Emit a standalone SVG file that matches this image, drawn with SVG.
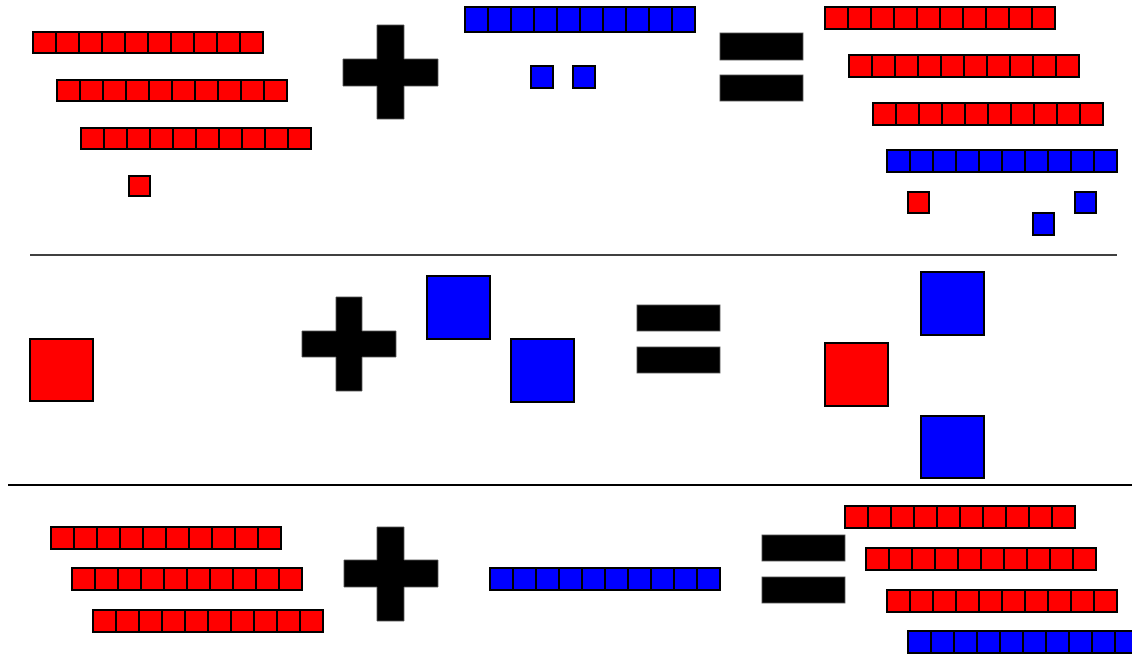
<svg xmlns="http://www.w3.org/2000/svg" xmlns:xlink="http://www.w3.org/1999/xlink" width="1132" height="654" viewBox="0 0 1132 654">
<style>
.r{fill:#ff0000;stroke:#000;stroke-width:2;vector-effect:non-scaling-stroke}
.b{fill:#0000ff;stroke:#000;stroke-width:2;vector-effect:non-scaling-stroke}
.k{fill:#000;stroke:#555;stroke-width:0.8}
.sep{stroke:#000;fill:none}
</style>
<defs>
<g id="rbar">
<rect class="r" x="0" y="0" width="23" height="22"/><rect class="r" x="23" y="0" width="23" height="22"/><rect class="r" x="46" y="0" width="23" height="22"/><rect class="r" x="69" y="0" width="23" height="22"/><rect class="r" x="92" y="0" width="23" height="22"/><rect class="r" x="115" y="0" width="23" height="22"/><rect class="r" x="138" y="0" width="23" height="22"/><rect class="r" x="161" y="0" width="23" height="22"/><rect class="r" x="184" y="0" width="23" height="22"/><rect class="r" x="207" y="0" width="23" height="22"/>
</g>
<g id="bbar">
<rect class="b" x="0" y="0" width="23" height="22"/><rect class="b" x="23" y="0" width="23" height="22"/><rect class="b" x="46" y="0" width="23" height="22"/><rect class="b" x="69" y="0" width="23" height="22"/><rect class="b" x="92" y="0" width="23" height="22"/><rect class="b" x="115" y="0" width="23" height="22"/><rect class="b" x="138" y="0" width="23" height="22"/><rect class="b" x="161" y="0" width="23" height="22"/><rect class="b" x="184" y="0" width="23" height="22"/><rect class="b" x="207" y="0" width="23" height="22"/>
</g>
</defs>
<rect width="1132" height="654" fill="#fff"/>

<g id="row1">
  <g id="r1-left">
    <use href="#rbar" transform="translate(33,32) scale(1,0.95)"/>
    <use href="#rbar" transform="translate(57,80) scale(1,0.95)"/>
    <use href="#rbar" transform="translate(81,128) scale(1,0.95)"/>
    <rect class="r" x="129" y="176" width="21" height="20"/>
  </g>
  <g id="r1-plus"><path class="k" d="M377 25H404V59H438V86H404V119H377V86H343V59H377Z"/></g>
  <g id="r1-mid">
    <use href="#bbar" transform="translate(465,7) scale(1,1.14)"/>
    <rect class="b" x="531" y="66" width="22" height="22"/>
    <rect class="b" x="573" y="66" width="22" height="22"/>
  </g>
  <g id="r1-eq"><rect class="k" x="720" y="33" width="83" height="27"/><rect class="k" x="720" y="75" width="83" height="26"/></g>
  <g id="r1-right">
    <use href="#rbar" transform="translate(825,7)"/>
    <use href="#rbar" transform="translate(849,55)"/>
    <use href="#rbar" transform="translate(873,103)"/>
    <use href="#bbar" transform="translate(887,150)"/>
    <rect class="r" x="908" y="192" width="21" height="21"/>
    <rect class="b" x="1075" y="192" width="21" height="21"/>
    <rect class="b" x="1033" y="213" width="21" height="22"/>
  </g>
</g>

<g id="separators">
  <line class="sep" x1="30" y1="255" x2="1117" y2="255" stroke-width="1.5"/>
  <line class="sep" x1="8" y1="485" x2="1132" y2="485" stroke-width="2"/>
</g>

<g id="row2">
  <g id="r2-left"><rect class="r" x="30" y="339" width="63" height="62"/></g>
  <g id="r2-plus"><path class="k" d="M336 297H362V331H396V357H362V391H336V357H302V331H336Z"/></g>
  <g id="r2-mid">
    <rect class="b" x="427" y="276" width="63" height="63"/>
    <rect class="b" x="511" y="339" width="63" height="63"/>
  </g>
  <g id="r2-eq"><rect class="k" x="637" y="305" width="83" height="26"/><rect class="k" x="637" y="347" width="83" height="26"/></g>
  <g id="r2-right">
    <rect class="r" x="825" y="343" width="63" height="63"/>
    <rect class="b" x="921" y="272" width="63" height="63"/>
    <rect class="b" x="921" y="416" width="63" height="62"/>
  </g>
</g>

<g id="row3">
  <g id="r3-left">
    <use href="#rbar" transform="translate(51,527)"/>
    <use href="#rbar" transform="translate(72,568)"/>
    <use href="#rbar" transform="translate(93,610)"/>
  </g>
  <g id="r3-plus"><path class="k" d="M377 527H404V560H438V587H404V621H377V587H344V560H377Z"/></g>
  <g id="r3-mid"><use href="#bbar" transform="translate(490,568)"/></g>
  <g id="r3-eq"><rect class="k" x="762" y="535" width="83" height="26"/><rect class="k" x="762" y="577" width="83" height="26"/></g>
  <g id="r3-right">
    <use href="#rbar" transform="translate(845,506)"/>
    <use href="#rbar" transform="translate(866,548)"/>
    <use href="#rbar" transform="translate(887,590)"/>
    <use href="#bbar" transform="translate(908,631)"/>
  </g>
</g>
</svg>
